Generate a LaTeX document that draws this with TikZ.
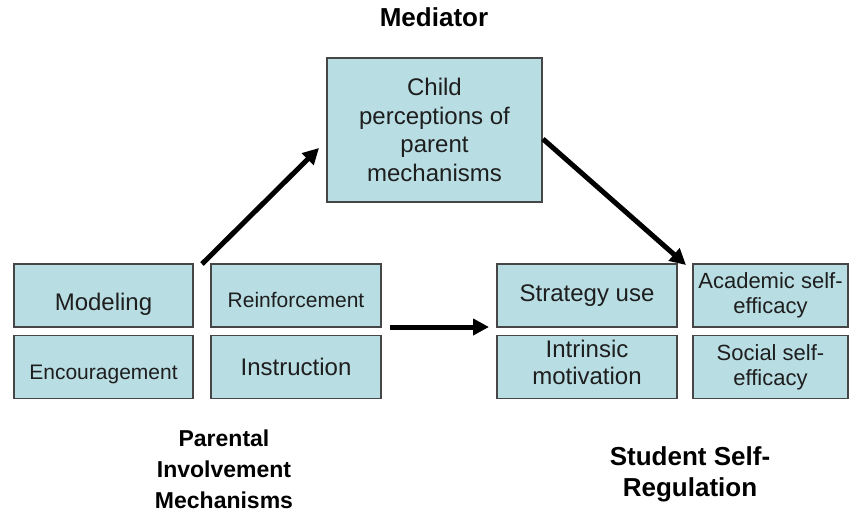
\documentclass[tikz,border=0pt]{standalone}
\usepackage{fontspec}
\setmainfont{Liberation Sans}
\usetikzlibrary{arrows.meta}
\definecolor{boxfill}{RGB}{184,221,227}
\definecolor{boxline}{RGB}{70,70,70}
\definecolor{txt}{RGB}{30,30,30}
\tikzset{
  box/.style={draw=boxline, fill=boxfill, line width=1.2pt, inner sep=0pt, align=center, text=txt, font=\fontsize{24}{27}\selectfont},
  small/.style={box, minimum width=179pt, minimum height=63pt},
  mid/.style={box, minimum width=170pt, minimum height=63pt},
  big/.style={box, minimum width=180pt, minimum height=63pt},
  eff/.style={box, minimum width=155pt, minimum height=63pt, font=\fontsize{22}{25}\selectfont},
  boxtext/.style={align=center, text=txt, inner sep=0pt},
  heading/.style={align=center, text=black, inner sep=0pt},
  flow/.style={line width=5pt, -{Triangle[length=16pt,width=16pt]}, black}
}
\begin{document}
\begin{tikzpicture}[x=1pt,y=-1pt]
\useasboundingbox (0,0) rectangle (850,514);
% left group
\node[small] (model) at (103.5,295.5) {};
\node[boxtext, font=\fontsize{24}{27}\selectfont] (modelt) at ([yshift=-9pt]model.center) {Modeling};
\node[small] (enc) at (103.5,367) {};
\node[boxtext, font=\fontsize{21}{24}\selectfont] (enct) at ([yshift=-7pt]enc.center) {Encouragement};
\node[mid] (reinf) at (296,295.5) {};
\node[boxtext, font=\fontsize{21}{24}\selectfont] (reinft) at ([yshift=-4pt]reinf.center) {Reinforcement};
\node[mid] (instr) at (296,367) {Instruction};
% mediator
\node[box, minimum width=215pt, minimum height=144pt, font=\fontsize{24}{28.5}\selectfont] (child) at (434.5,130) {Child\\perceptions of\\parent\\mechanisms};
% right group
\node[big] (strat) at (587,295.5) {Strategy use};
\node[big] (intr) at (587,367) {};
\node[boxtext, font=\fontsize{24}{27}\selectfont] (intrt) at ([yshift=5pt]intr.center) {Intrinsic\\motivation};
\node[eff] (acad) at (770.5,295.5) {Academic self-\\efficacy};
\node[eff] (soc) at (770.5,367) {Social self-\\efficacy};
% headings
\node[heading, font=\bfseries\fontsize{26}{30}\selectfont, anchor=base] (medlab) at (434,26) {Mediator};
\node[heading, font=\bfseries\fontsize{23}{31}\selectfont, anchor=base] (parlab) at (224,508) {Parental\\Involvement\\Mechanisms};
\node[heading, font=\bfseries\fontsize{26}{31}\selectfont, anchor=base] (stulab) at (690,496) {Student Self-\\Regulation};
% connectors
\coordinate (a1s) at (202,264);
\coordinate (a1e) at (319,148);
\coordinate (a2s) at (543,139);
\coordinate (a2e) at (686,265);
\coordinate (a3s) at (390,327);
\coordinate (a3e) at (489,327);
\draw[flow] (a1s) -- (a1e);
\draw[flow] (a2s) -- (a2e);
\draw[flow] (a3s) -- (a3e);
\end{tikzpicture}
\end{document}
